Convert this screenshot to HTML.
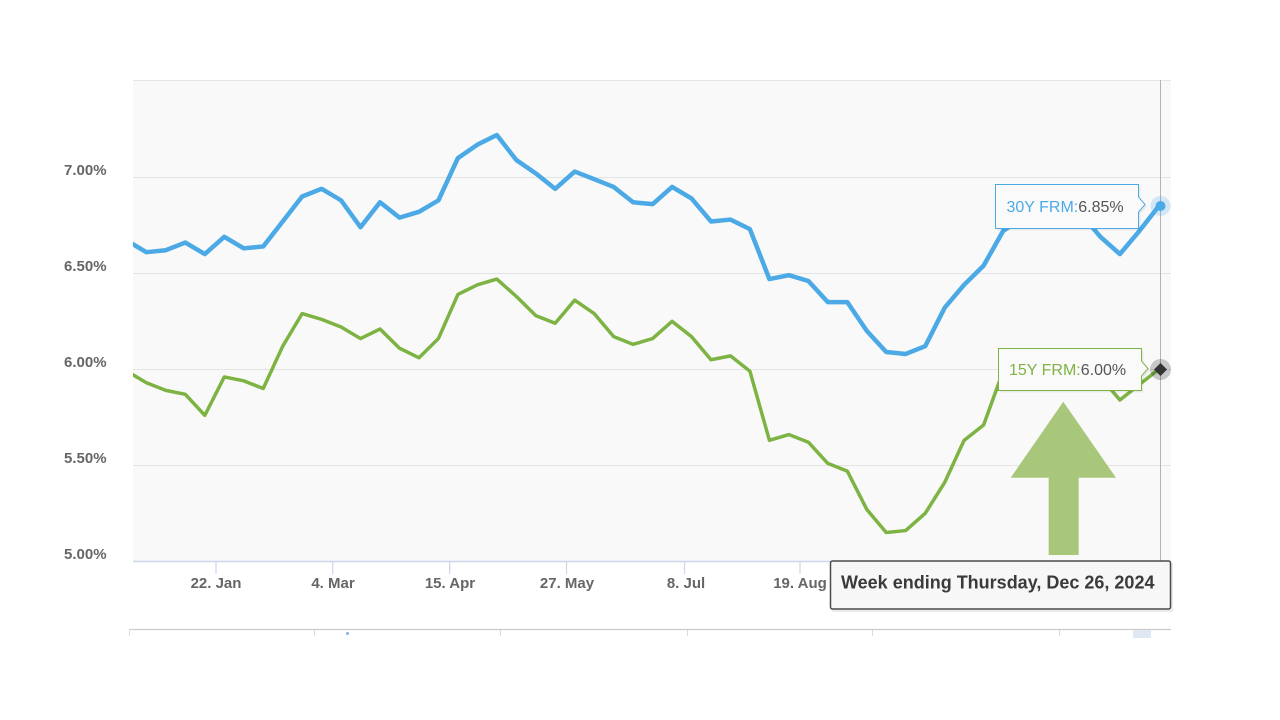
<!DOCTYPE html>
<html>
<head>
<meta charset="utf-8">
<style>
html,body{margin:0;padding:0;background:#fff;}
body{width:1280px;height:720px;overflow:hidden;}
svg{display:block;font-family:"Liberation Sans",Arial,sans-serif;}
</style>
</head>
<body>
<svg width="1280" height="720" viewBox="0 0 1280 720" xmlns="http://www.w3.org/2000/svg">
  <defs>
    <clipPath id="plot"><rect x="133" y="80" width="1038" height="482"/></clipPath>
  </defs>
  <rect x="0" y="0" width="1280" height="720" fill="#ffffff"/>
  <!-- plot background -->
  <rect x="133" y="80" width="1038" height="481.5" fill="#f9f9f9"/>
  <line x1="133" y1="80.5" x2="1171" y2="80.5" stroke="#e6e6e6" stroke-width="1"/>
  <!-- gridlines -->
  <g stroke="#e4e4e4" stroke-width="1">
    <line x1="133" y1="177.5" x2="1171" y2="177.5"/>
    <line x1="133" y1="273.5" x2="1171" y2="273.5"/>
    <line x1="133" y1="369.5" x2="1171" y2="369.5"/>
    <line x1="133" y1="465.5" x2="1171" y2="465.5"/>
  </g>
  <!-- x axis -->
  <line x1="133" y1="561.5" x2="1171" y2="561.5" stroke="#ccd6eb" stroke-width="1.5"/>
  <g stroke="#ccd6eb" stroke-width="1.2">
    <line x1="216" y1="561" x2="216" y2="574"/>
    <line x1="332.7" y1="561" x2="332.7" y2="574"/>
    <line x1="449.6" y1="561" x2="449.6" y2="574"/>
    <line x1="566.5" y1="561" x2="566.5" y2="574"/>
    <line x1="684.5" y1="561" x2="684.5" y2="574"/>
    <line x1="800" y1="561" x2="800" y2="574"/>
    <line x1="917" y1="561" x2="917" y2="574"/>
  </g>
  <!-- y labels -->
  <g fill="#666666" font-size="15" font-weight="bold">
    <text x="64" y="175">7.00%</text>
    <text x="64" y="271">6.50%</text>
    <text x="64" y="367">6.00%</text>
    <text x="64" y="463">5.50%</text>
    <text x="64" y="559">5.00%</text>
  </g>
  <!-- x labels -->
  <g fill="#666666" font-size="15" font-weight="bold" text-anchor="middle">
    <text x="216" y="588">22. Jan</text>
    <text x="333" y="588">4. Mar</text>
    <text x="450" y="588">15. Apr</text>
    <text x="567" y="588">27. May</text>
    <text x="686" y="588">8. Jul</text>
    <text x="800" y="588">19. Aug</text>
  </g>

  <!-- series -->
  <g clip-path="url(#plot)">
    <g transform="translate(0,177.3) scale(1,0.99482) translate(0,-177.3)" fill="none" stroke-linejoin="round" stroke-linecap="round">
      <polyline stroke="#4ba9e6" stroke-width="4.5" points="126.9,241.0 146.4,252.6 165.8,250.6 185.3,242.9 204.8,254.5 224.3,237.1 243.7,248.7 263.2,246.8 282.7,221.7 302.1,196.6 321.6,188.9 341.1,200.5 360.5,227.5 380.0,202.4 399.5,217.8 419.0,212.0 438.4,200.5 457.9,158.0 477.4,144.5 496.8,134.8 516.3,159.9 535.8,173.4 555.2,188.9 574.7,171.5 594.2,179.2 613.7,187.0 633.1,202.4 652.6,204.3 672.1,187.0 691.5,198.5 711.0,221.7 730.5,219.8 749.9,229.4 769.4,279.6 788.9,275.7 808.4,281.5 827.8,302.8 847.3,302.8 866.8,331.7 886.2,352.9 905.7,354.9 925.2,347.1 944.6,308.5 964.1,285.4 983.6,266.1 1003.1,231.3 1022.5,217.8 1042.0,219.8 1061.5,208.2 1080.9,214.0 1100.4,237.1 1119.9,254.5 1139.3,231.3 1158.8,206.3"/>
      <polyline stroke="#7db343" stroke-width="3.5" points="126.9,372.2 146.4,383.8 165.8,391.5 185.3,395.4 204.8,416.6 224.3,378.0 243.7,381.9 263.2,389.6 282.7,347.1 302.1,314.3 321.6,320.1 341.1,327.8 360.5,339.4 380.0,329.8 399.5,349.1 419.0,358.7 438.4,339.4 457.9,295.0 477.4,285.4 496.8,279.6 516.3,297.0 535.8,316.3 555.2,324.0 574.7,300.8 594.2,314.3 613.7,337.5 633.1,345.2 652.6,339.4 672.1,322.1 691.5,337.5 711.0,360.7 730.5,356.8 749.9,372.2 769.4,441.7 788.9,435.9 808.4,443.6 827.8,464.9 847.3,472.6 866.8,511.2 886.2,534.4 905.7,532.4 925.2,515.1 944.6,484.2 964.1,441.7 983.6,426.3 1003.1,372.2 1022.5,370.3 1042.0,366.4 1061.5,360.7 1080.9,370.3 1100.4,378.0 1119.9,401.2 1139.3,385.7 1158.8,370.3"/>
    </g>
  </g>

  <!-- crosshair -->
  <line x1="1160.5" y1="80" x2="1160.5" y2="561" stroke="#b3b3b3" stroke-width="1"/>

  <!-- markers -->
  <circle cx="1160.5" cy="206" r="10" fill="#4ba9e6" fill-opacity="0.22"/>
  <circle cx="1160.5" cy="206" r="5" fill="#4ba9e6"/>
  <circle cx="1160.5" cy="369.5" r="10.5" fill="#000" fill-opacity="0.2"/>
  <polygon points="1160.5,363 1167,369.5 1160.5,376 1154,369.5" fill="#333"/>

  <!-- 30Y tooltip -->
  <path d="M996.5,185.5 H1139.5 V198 L1146,205.5 L1139.5,213 V229.5 H996.5 Z" fill="#000" fill-opacity="0.06" transform="translate(1,1)"/>
  <path d="M995.5,184.5 H1138.5 V197 L1145,204.5 L1138.5,212 V228.5 H995.5 Z" fill="#fafafa" stroke="#4ba9e6" stroke-width="1"/>
  <text x="1006.5" y="212" font-size="16"><tspan fill="#4ba9e6">30Y FRM:</tspan><tspan fill="#555555">6.85%</tspan></text>

  <!-- 15Y tooltip -->
  <path d="M999.5,349.5 H1142.5 V362 L1149,369.5 L1142.5,377 V391.5 H999.5 Z" fill="#000" fill-opacity="0.06" transform="translate(1,1)"/>
  <path d="M998.5,348.5 H1141.5 V361 L1148,368.5 L1141.5,376 V390.5 H998.5 Z" fill="#fafafa" stroke="#7db343" stroke-width="1"/>
  <text x="1009" y="375" font-size="16"><tspan fill="#7db343">15Y FRM:</tspan><tspan fill="#555555">6.00%</tspan></text>

  <!-- green arrow -->
  <polygon points="1063.3,401.7 1116,477.7 1078.7,477.7 1078.7,555 1048.7,555 1048.7,477.7 1010.7,477.7" fill="#a8c77b"/>

  <!-- week ending box -->
  <rect x="832" y="563" width="341" height="49" rx="2" fill="#000" fill-opacity="0.08"/>
  <rect x="830.5" y="561" width="340" height="48" rx="2" fill="#f7f7f7" stroke="#4a4a4a" stroke-width="1.5"/>
  <text x="841" y="588.5" font-size="18" font-weight="bold" fill="#3a3a3a">Week ending Thursday, Dec 26, 2024</text>

  <!-- navigator -->
  <line x1="130" y1="629.5" x2="1171" y2="629.5" stroke="#cccccc" stroke-width="1.2"/>
  <g stroke="#dddddd" stroke-width="1">
    <line x1="129.5" y1="629" x2="129.5" y2="636"/>
    <line x1="314.5" y1="630" x2="314.5" y2="636"/>
    <line x1="500.5" y1="630" x2="500.5" y2="636"/>
    <line x1="687.5" y1="630" x2="687.5" y2="636"/>
    <line x1="872.5" y1="630" x2="872.5" y2="636"/>
    <line x1="1059.5" y1="630" x2="1059.5" y2="636"/>
  </g>
  <circle cx="347.5" cy="633.5" r="1.5" fill="#7fb5e8"/>
  <rect x="1133" y="630" width="18" height="8" fill="#dfe7f3"/>
</svg>
</body>
</html>
